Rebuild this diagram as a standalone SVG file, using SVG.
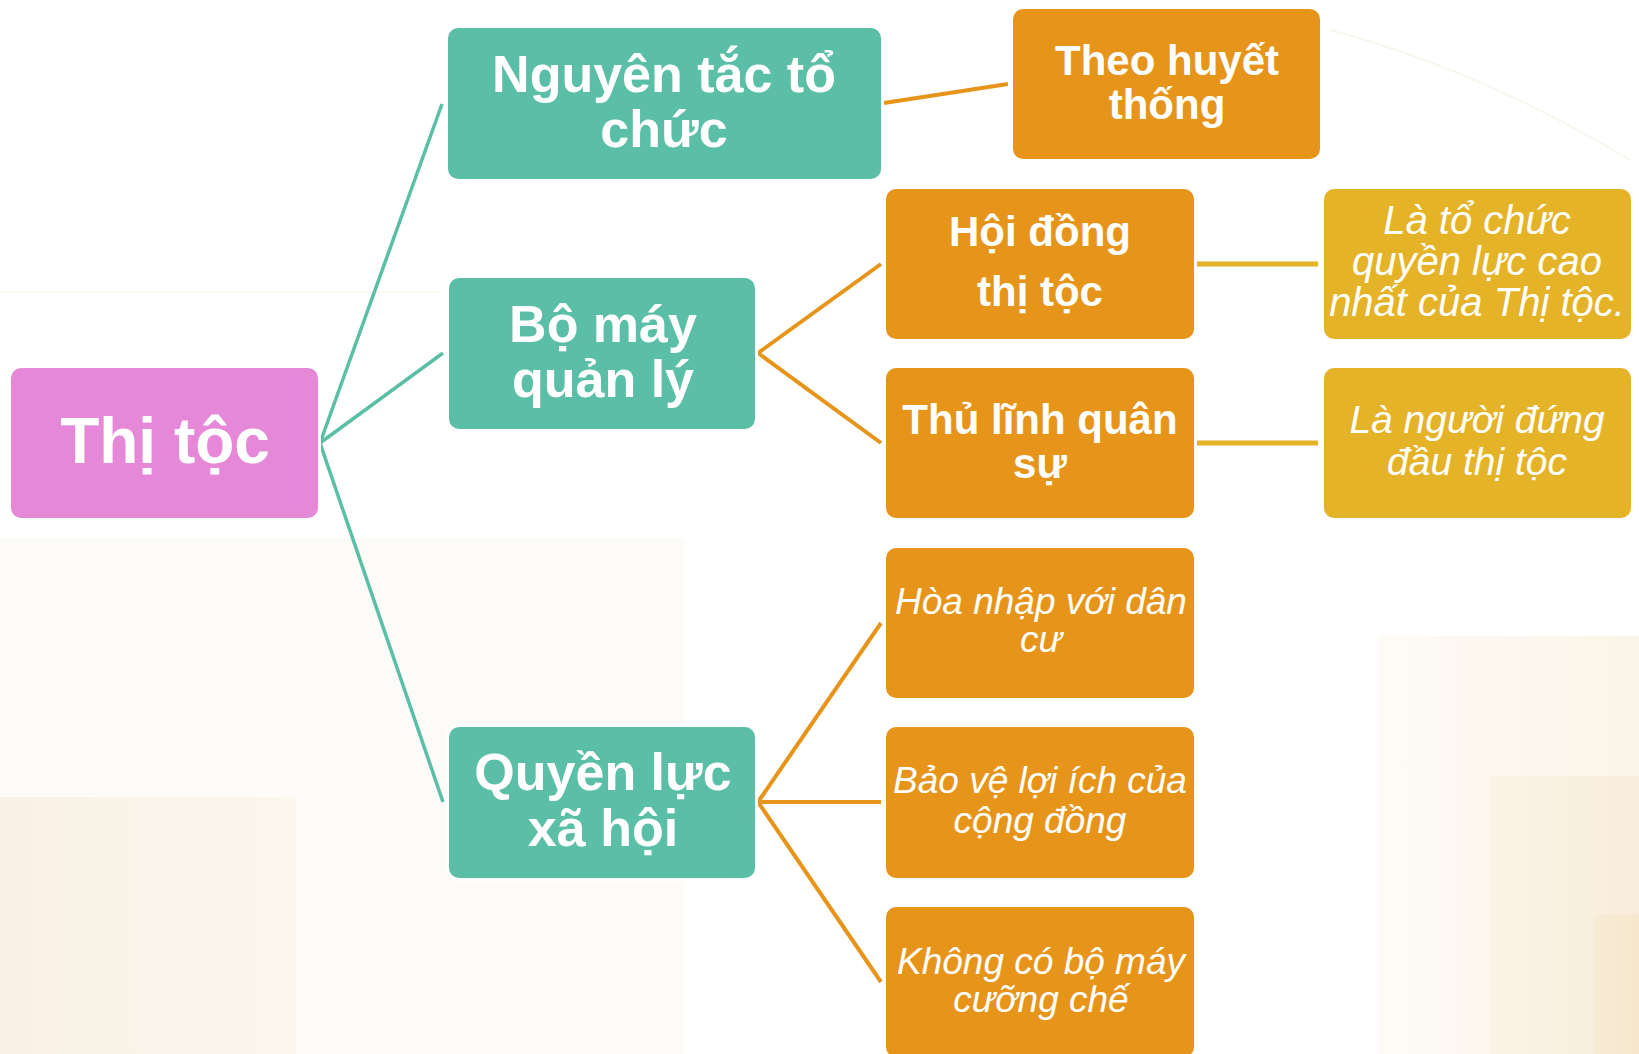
<svg xmlns="http://www.w3.org/2000/svg" width="1639" height="1054" viewBox="0 0 1639 1054">
<defs>
<linearGradient id="bgL" x1="0" y1="0" x2="1" y2="0">
<stop offset="0" stop-color="#f9f1e5"/><stop offset="1" stop-color="#fbf6ee"/>
</linearGradient>
<linearGradient id="bgR1" x1="0" y1="0" x2="1" y2="0">
<stop offset="0" stop-color="#fefbf6"/><stop offset="1" stop-color="#fbf4e8"/>
</linearGradient>
<linearGradient id="bgR2" x1="0" y1="0" x2="1" y2="0">
<stop offset="0" stop-color="#fbf3e5"/><stop offset="1" stop-color="#f8eddb"/>
</linearGradient>
<linearGradient id="bgR3" x1="0" y1="0" x2="1" y2="0">
<stop offset="0" stop-color="#f8ecd6"/><stop offset="1" stop-color="#f6e7cc"/>
</linearGradient>
<style>
.halo{fill:#ffffff}
.teal{fill:#5bbfa7}
.pink{fill:#e588d8}
.orange{fill:#e6951a}
.gold{fill:#e4b327}
.b{font-family:"Liberation Sans",Arial,sans-serif;font-weight:bold;fill:#ffffff;text-anchor:middle}
.i{font-family:"Liberation Sans",Arial,sans-serif;font-style:italic;fill:#ffffff;text-anchor:middle}
.ct{stroke:#5bbfa7;stroke-width:3.5;fill:none}
.co{stroke:#e6951a;stroke-width:4;fill:none}
.cg{stroke:#e4b327;stroke-width:5;fill:none}
</style>
</defs>
<g id="background">
<rect x="0" y="0" width="1639" height="1054" fill="#ffffff"/>
<rect x="0" y="538" width="684" height="516" fill="#fdfbf7"/>
<rect x="0" y="797" width="296" height="257" fill="url(#bgL)"/>
<rect x="1378" y="636" width="261" height="418" fill="url(#bgR1)"/>
<rect x="1489" y="776" width="150" height="278" fill="url(#bgR2)"/>
<rect x="1594" y="914" width="45" height="140" fill="url(#bgR3)"/>
<line x1="0" y1="292" x2="442" y2="292" stroke="#fcf6ee" stroke-width="1.5"/>
<path d="M1330 30 Q1480 70 1630 160" stroke="#faf6ee" stroke-width="2" fill="none"/>
</g>
<g id="connectors">
<line class="ct" x1="320" y1="443" x2="442" y2="104"/>
<line class="ct" x1="320" y1="443" x2="443" y2="353"/>
<line class="ct" x1="320" y1="443" x2="443" y2="802"/>
<line class="co" x1="884" y1="103" x2="1008" y2="84"/>
<line class="co" x1="758" y1="353" x2="881" y2="264"/>
<line class="co" x1="758" y1="353" x2="881" y2="443"/>
<line class="co" x1="758" y1="802" x2="881" y2="623"/>
<line class="co" x1="758" y1="802" x2="881" y2="802"/>
<line class="co" x1="758" y1="802" x2="881" y2="982"/>
<line class="cg" x1="1196" y1="264" x2="1318" y2="264"/>
<line class="cg" x1="1196" y1="443" x2="1318" y2="443"/>
</g>
<g id="thi-toc">
<rect class="halo" x="8" y="365" width="313" height="156" rx="13"/>
<rect class="pink" x="11" y="368" width="307" height="150" rx="10"/>
<text class="b" x="165" y="463" font-size="64">Thị tộc</text>
</g>
<g id="nguyen-tac-to-chuc">
<rect class="halo" x="445" y="25" width="439" height="157" rx="13"/>
<rect class="teal" x="448" y="28" width="433" height="151" rx="10"/>
<text class="b" x="664" y="92" font-size="52">Nguyên tắc tổ</text>
<text class="b" x="664" y="147" font-size="52">chức</text>
</g>
<g id="bo-may-quan-ly">
<rect class="halo" x="446" y="275" width="312" height="157" rx="13"/>
<rect class="teal" x="449" y="278" width="306" height="151" rx="10"/>
<text class="b" x="603" y="342" font-size="52">Bộ máy</text>
<text class="b" x="603" y="397" font-size="52">quản lý</text>
</g>
<g id="quyen-luc-xa-hoi">
<rect class="halo" x="446" y="724" width="312" height="157" rx="13"/>
<rect class="teal" x="449" y="727" width="306" height="151" rx="10"/>
<text class="b" x="603" y="790" font-size="52">Quyền lực</text>
<text class="b" x="603" y="846" font-size="52">xã hội</text>
</g>
<g id="theo-huyet-thong">
<rect class="halo" x="1010" y="6" width="313" height="156" rx="13"/>
<rect class="orange" x="1013" y="9" width="307" height="150" rx="10"/>
<text class="b" x="1167" y="75" font-size="42">Theo huyết</text>
<text class="b" x="1167" y="119" font-size="42">thống</text>
</g>
<g id="hoi-dong-thi-toc">
<rect class="halo" x="883" y="186" width="314" height="156" rx="13"/>
<rect class="orange" x="886" y="189" width="308" height="150" rx="10"/>
<text class="b" x="1040" y="246" font-size="42">Hội đồng</text>
<text class="b" x="1040" y="306" font-size="42">thị tộc</text>
</g>
<g id="thu-linh-quan-su">
<rect class="halo" x="883" y="365" width="314" height="156" rx="13"/>
<rect class="orange" x="886" y="368" width="308" height="150" rx="10"/>
<text class="b" x="1040" y="434" font-size="42">Thủ lĩnh quân</text>
<text class="b" x="1040" y="478" font-size="42">sự</text>
</g>
<g id="la-to-chuc">
<rect class="halo" x="1321" y="186" width="313" height="156" rx="13"/>
<rect class="gold" x="1324" y="189" width="307" height="150" rx="10"/>
<text class="i" x="1477" y="234" font-size="40">Là tổ chức</text>
<text class="i" x="1477" y="275" font-size="40">quyền lực cao</text>
<text class="i" x="1477" y="316" font-size="40">nhất của Thị tộc.</text>
</g>
<g id="la-nguoi-dung-dau">
<rect class="halo" x="1321" y="365" width="313" height="156" rx="13"/>
<rect class="gold" x="1324" y="368" width="307" height="150" rx="10"/>
<text class="i" x="1477" y="433" font-size="39">Là người đứng</text>
<text class="i" x="1477" y="475" font-size="39">đầu thị tộc</text>
</g>
<g id="hoa-nhap">
<rect class="halo" x="883" y="545" width="314" height="156" rx="13"/>
<rect class="orange" x="886" y="548" width="308" height="150" rx="10"/>
<text class="i" x="1041" y="614" font-size="37">Hòa nhập với dân</text>
<text class="i" x="1041" y="652" font-size="37">cư</text>
</g>
<g id="bao-ve">
<rect class="halo" x="883" y="724" width="314" height="157" rx="13"/>
<rect class="orange" x="886" y="727" width="308" height="151" rx="10"/>
<text class="i" x="1040" y="793" font-size="37">Bảo vệ lợi ích của</text>
<text class="i" x="1040" y="833" font-size="37">cộng đồng</text>
</g>
<g id="khong-co">
<rect class="halo" x="883" y="904" width="314" height="156" rx="13"/>
<rect class="orange" x="886" y="907" width="308" height="150" rx="10"/>
<text class="i" x="1041" y="974" font-size="37">Không có bộ máy</text>
<text class="i" x="1041" y="1012" font-size="37">cưỡng chế</text>
</g>
</svg>
